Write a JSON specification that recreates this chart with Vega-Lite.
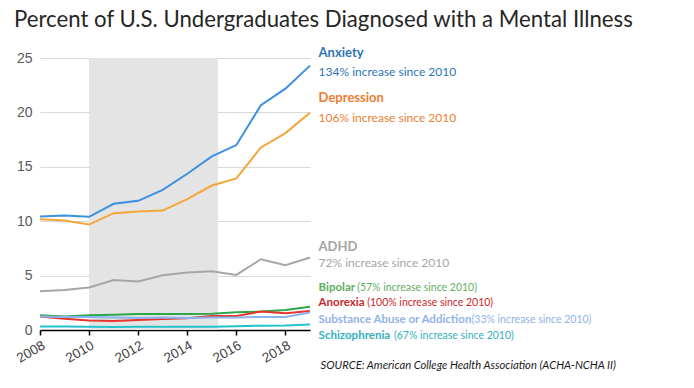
{
  "$schema": "https://vega.github.io/schema/vega-lite/v6.json",
  "width": 270,
  "height": 272,
  "autosize": "none",
  "padding": {"left": 40, "top": 58, "right": 384, "bottom": 58},
  "background": "white",
  "title": {
    "text": "Percent of U.S. Undergraduates Diagnosed with a Mental Illness",
    "anchor": "start",
    "frame": "group",
    "dx": -26,
    "offset": 16,
    "font": "Lato",
    "fontSize": 22.2,
    "fontWeight": "normal",
    "color": "#262626"
  },
  "config": {
    "view": {"stroke": null},
    "font": "Lato",
    "axisY": {
      "grid": true, "gridColor": "#d9d9d9", "gridWidth": 1,
      "domain": false, "ticks": false,
      "labelFont": "Liberation Sans", "labelFontSize": 14, "labelColor": "#595959", "labelPadding": 8
    },
    "axisX": {
      "grid": false, "domainColor": "#000000", "domainWidth": 1.5,
      "tickColor": "#000000", "tickWidth": 1.5, "tickSize": 5,
      "labelFont": "Liberation Sans", "labelFontSize": 13.5, "labelColor": "#404040",
      "labelAngle": -30, "labelAlign": "right", "labelBaseline": "top", "labelDx": 9, "labelPadding": 3
    }
  },
  "datasets": {
    "band": [{"start": 2010, "end": 2015.25, "lo": 0, "hi": 25}],
    "series": [
      {"year": 2008, "series": "Anxiety", "value": 10.43},
      {"year": 2009, "series": "Anxiety", "value": 10.52},
      {"year": 2010, "series": "Anxiety", "value": 10.4},
      {"year": 2011, "series": "Anxiety", "value": 11.6},
      {"year": 2012, "series": "Anxiety", "value": 11.87},
      {"year": 2013, "series": "Anxiety", "value": 12.88},
      {"year": 2014, "series": "Anxiety", "value": 14.36},
      {"year": 2015, "series": "Anxiety", "value": 15.95},
      {"year": 2016, "series": "Anxiety", "value": 17.0},
      {"year": 2017, "series": "Anxiety", "value": 20.67},
      {"year": 2018, "series": "Anxiety", "value": 22.18},
      {"year": 2019, "series": "Anxiety", "value": 24.3},
      {"year": 2008, "series": "Depression", "value": 10.18},
      {"year": 2009, "series": "Depression", "value": 10.06},
      {"year": 2010, "series": "Depression", "value": 9.69},
      {"year": 2011, "series": "Depression", "value": 10.74},
      {"year": 2012, "series": "Depression", "value": 10.89},
      {"year": 2013, "series": "Depression", "value": 10.98},
      {"year": 2014, "series": "Depression", "value": 12.02},
      {"year": 2015, "series": "Depression", "value": 13.28},
      {"year": 2016, "series": "Depression", "value": 13.93},
      {"year": 2017, "series": "Depression", "value": 16.78},
      {"year": 2018, "series": "Depression", "value": 18.1},
      {"year": 2019, "series": "Depression", "value": 19.97},
      {"year": 2008, "series": "ADHD", "value": 3.56},
      {"year": 2009, "series": "ADHD", "value": 3.68},
      {"year": 2010, "series": "ADHD", "value": 3.9},
      {"year": 2011, "series": "ADHD", "value": 4.6},
      {"year": 2012, "series": "ADHD", "value": 4.45},
      {"year": 2013, "series": "ADHD", "value": 5.03},
      {"year": 2014, "series": "ADHD", "value": 5.28},
      {"year": 2015, "series": "ADHD", "value": 5.4},
      {"year": 2016, "series": "ADHD", "value": 5.06},
      {"year": 2017, "series": "ADHD", "value": 6.5},
      {"year": 2018, "series": "ADHD", "value": 5.95},
      {"year": 2019, "series": "ADHD", "value": 6.66},
      {"year": 2008, "series": "Bipolar", "value": 1.35},
      {"year": 2009, "series": "Bipolar", "value": 1.25},
      {"year": 2010, "series": "Bipolar", "value": 1.35},
      {"year": 2011, "series": "Bipolar", "value": 1.4},
      {"year": 2012, "series": "Bipolar", "value": 1.47},
      {"year": 2013, "series": "Bipolar", "value": 1.47},
      {"year": 2014, "series": "Bipolar", "value": 1.47},
      {"year": 2015, "series": "Bipolar", "value": 1.5},
      {"year": 2016, "series": "Bipolar", "value": 1.63},
      {"year": 2017, "series": "Bipolar", "value": 1.69},
      {"year": 2018, "series": "Bipolar", "value": 1.84},
      {"year": 2019, "series": "Bipolar", "value": 2.13},
      {"year": 2008, "series": "Anorexia", "value": 1.23},
      {"year": 2009, "series": "Anorexia", "value": 1.04},
      {"year": 2010, "series": "Anorexia", "value": 0.87},
      {"year": 2011, "series": "Anorexia", "value": 0.83},
      {"year": 2012, "series": "Anorexia", "value": 0.92},
      {"year": 2013, "series": "Anorexia", "value": 1.02},
      {"year": 2014, "series": "Anorexia", "value": 1.07},
      {"year": 2015, "series": "Anorexia", "value": 1.29},
      {"year": 2016, "series": "Anorexia", "value": 1.29},
      {"year": 2017, "series": "Anorexia", "value": 1.69},
      {"year": 2018, "series": "Anorexia", "value": 1.53},
      {"year": 2019, "series": "Anorexia", "value": 1.74},
      {"year": 2008, "series": "Substance Abuse or Addiction", "value": 1.25},
      {"year": 2009, "series": "Substance Abuse or Addiction", "value": 1.2},
      {"year": 2010, "series": "Substance Abuse or Addiction", "value": 1.2},
      {"year": 2011, "series": "Substance Abuse or Addiction", "value": 1.15},
      {"year": 2012, "series": "Substance Abuse or Addiction", "value": 1.1},
      {"year": 2013, "series": "Substance Abuse or Addiction", "value": 1.15},
      {"year": 2014, "series": "Substance Abuse or Addiction", "value": 1.1},
      {"year": 2015, "series": "Substance Abuse or Addiction", "value": 1.15},
      {"year": 2016, "series": "Substance Abuse or Addiction", "value": 1.15},
      {"year": 2017, "series": "Substance Abuse or Addiction", "value": 1.2},
      {"year": 2018, "series": "Substance Abuse or Addiction", "value": 1.2},
      {"year": 2019, "series": "Substance Abuse or Addiction", "value": 1.6},
      {"year": 2008, "series": "Schizophrenia", "value": 0.33},
      {"year": 2009, "series": "Schizophrenia", "value": 0.32},
      {"year": 2010, "series": "Schizophrenia", "value": 0.3},
      {"year": 2011, "series": "Schizophrenia", "value": 0.28},
      {"year": 2012, "series": "Schizophrenia", "value": 0.3},
      {"year": 2013, "series": "Schizophrenia", "value": 0.3},
      {"year": 2014, "series": "Schizophrenia", "value": 0.3},
      {"year": 2015, "series": "Schizophrenia", "value": 0.3},
      {"year": 2016, "series": "Schizophrenia", "value": 0.35},
      {"year": 2017, "series": "Schizophrenia", "value": 0.4},
      {"year": 2018, "series": "Schizophrenia", "value": 0.42},
      {"year": 2019, "series": "Schizophrenia", "value": 0.5}
    ],
    "labels": [
      {"series": "Anxiety", "kind": "name", "text": "Anxiety", "x": 2019.35, "y": 25.43},
      {"series": "Anxiety", "kind": "desc", "text": "134% increase since 2010", "x": 2019.35, "y": 23.69},
      {"series": "Depression", "kind": "name", "text": "Depression", "x": 2019.35, "y": 21.3},
      {"series": "Depression", "kind": "desc", "text": "106% increase since 2010", "x": 2019.35, "y": 19.51},
      {"series": "ADHD", "kind": "name", "text": "ADHD", "x": 2019.35, "y": 7.66},
      {"series": "ADHD", "kind": "desc", "text": "72% increase since 2010", "x": 2019.35, "y": 6.13},
      {"series": "Bipolar", "kind": "name", "text": "Bipolar", "x": 2019.35, "y": 3.83},
      {"series": "Bipolar", "kind": "desc", "text": "(57% increase since 2010)", "x": 2020.92, "y": 3.83},
      {"series": "Anorexia", "kind": "name", "text": "Anorexia", "x": 2019.35, "y": 2.45},
      {"series": "Anorexia", "kind": "desc", "text": "(100% increase since 2010)", "x": 2021.33, "y": 2.45},
      {"series": "Substance Abuse or Addiction", "kind": "name", "text": "Substance Abuse or Addiction", "x": 2019.35, "y": 0.92},
      {"series": "Substance Abuse or Addiction", "kind": "desc", "text": "(33% increase since 2010)", "x": 2025.58, "y": 0.92},
      {"series": "Schizophrenia", "kind": "name", "text": "Schizophrenia", "x": 2019.35, "y": -0.55},
      {"series": "Schizophrenia", "kind": "desc", "text": "(67% increase since 2010)", "x": 2022.42, "y": -0.55}
    ],
    "source": [{"text": "SOURCE: American College Health Association (ACHA-NCHA II)", "x": 2019.43, "y": -3.31}]
  },
  "layer": [
    {
      "data": {"name": "band"},
      "mark": {"type": "rect", "color": "#e4e4e4"},
      "encoding": {
        "x": {"field": "start", "type": "quantitative", "title": null,
              "scale": {"domain": [2008, 2019], "nice": false, "zero": false},
              "axis": {"values": [2008, 2010, 2012, 2014, 2016, 2018], "format": "d"}},
        "x2": {"field": "end"},
        "y": {"field": "lo", "type": "quantitative", "title": null,
              "scale": {"domain": [0, 25], "nice": false},
              "axis": {"values": [0, 5, 10, 15, 20, 25]}},
        "y2": {"field": "hi"}
      }
    },
    {
      "data": {"name": "series"},
      "mark": {"type": "line", "strokeWidth": 2},
      "encoding": {
        "x": {"field": "year", "type": "quantitative", "title": null},
        "y": {"field": "value", "type": "quantitative", "title": null},
        "color": {"field": "series", "type": "nominal", "legend": null,
          "scale": {"domain": ["Anxiety", "Depression", "ADHD", "Bipolar", "Anorexia", "Substance Abuse or Addiction", "Schizophrenia"],
                    "range": ["#3d8fe0", "#f5a638", "#a6a6a6", "#2ba84a", "#e8352b", "#8ab4f0", "#22c3cc"]}}
      }
    },
    {
      "data": {"name": "labels"},
      "layer": [
        {
          "transform": [{"filter": "datum.kind === 'name' && indexof(['Anxiety','Depression','ADHD'], datum.series) >= 0"}],
          "mark": {"type": "text", "align": "left", "baseline": "middle", "fontWeight": "bold", "fontSize": 13, "font": "Lato"},
          "encoding": {
            "x": {"field": "x", "type": "quantitative", "title": null},
            "y": {"field": "y", "type": "quantitative", "title": null},
            "text": {"field": "text"},
            "color": {"field": "series", "type": "nominal", "legend": null,
              "scale": {"domain": ["Anxiety", "Depression", "ADHD", "Bipolar", "Anorexia", "Substance Abuse or Addiction", "Schizophrenia"],
                        "range": ["#2e75b6", "#ed7d31", "#a5a5a5", "#5fae5f", "#cc1f2a", "#8fb3e8", "#34b0c0"]}}
          }
        },
        {
          "transform": [{"filter": "datum.kind === 'desc' && indexof(['Anxiety','Depression','ADHD'], datum.series) >= 0"}],
          "mark": {"type": "text", "align": "left", "baseline": "middle", "fontWeight": "normal", "fontSize": 12, "font": "Lato"},
          "encoding": {
            "x": {"field": "x", "type": "quantitative", "title": null},
            "y": {"field": "y", "type": "quantitative", "title": null},
            "text": {"field": "text"},
            "color": {"field": "series", "type": "nominal", "legend": null}
          }
        },
        {
          "transform": [{"filter": "datum.kind === 'name' && indexof(['Anxiety','Depression','ADHD'], datum.series) < 0"}],
          "mark": {"type": "text", "align": "left", "baseline": "middle", "fontWeight": "bold", "fontSize": 11.5, "font": "Lato"},
          "encoding": {
            "x": {"field": "x", "type": "quantitative", "title": null},
            "y": {"field": "y", "type": "quantitative", "title": null},
            "text": {"field": "text"},
            "color": {"field": "series", "type": "nominal", "legend": null}
          }
        },
        {
          "transform": [{"filter": "datum.kind === 'desc' && indexof(['Anxiety','Depression','ADHD'], datum.series) < 0"}],
          "mark": {"type": "text", "align": "left", "baseline": "middle", "fontWeight": "normal", "fontSize": 10.5, "font": "Lato"},
          "encoding": {
            "x": {"field": "x", "type": "quantitative", "title": null},
            "y": {"field": "y", "type": "quantitative", "title": null},
            "text": {"field": "text"},
            "color": {"field": "series", "type": "nominal", "legend": null}
          }
        }
      ],
      "resolve": {"scale": {"color": "shared"}}
    },
    {
      "data": {"name": "source"},
      "mark": {"type": "text", "align": "left", "baseline": "middle", "fontStyle": "italic", "fontSize": 11.2, "font": "Lato", "color": "#1a1a1a"},
      "encoding": {
        "x": {"field": "x", "type": "quantitative", "title": null},
        "y": {"field": "y", "type": "quantitative", "title": null},
        "text": {"field": "text"}
      }
    }
  ],
  "resolve": {"scale": {"color": "independent"}}
}
